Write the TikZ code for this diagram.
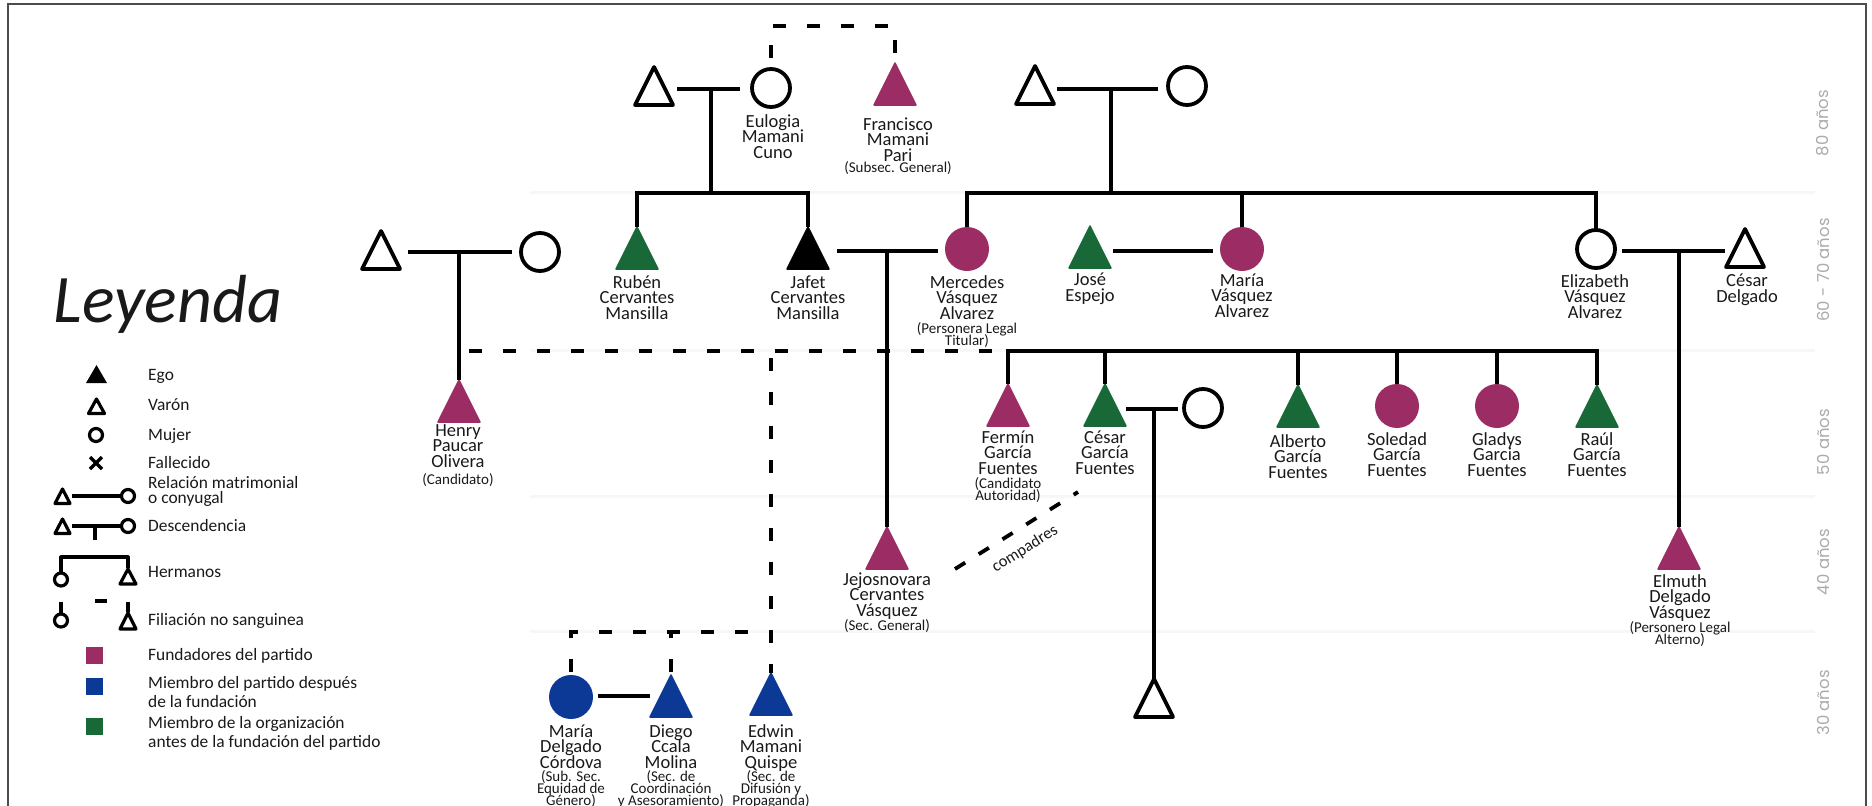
\documentclass[tikz,border=0pt]{standalone}
\usepackage{fontspec}
\setmainfont{Carlito}
\newfontfamily\agefont{Poppins}
\usetikzlibrary{shapes.geometric,calc}
\definecolor{fund}{RGB}{155,45,100}
\definecolor{desp}{RGB}{12,56,150}
\definecolor{antes}{RGB}{24,104,56}
\newcommand\lblfont{\fontsize{18.5}{15.3}\selectfont\lineskiplimit=-100pt\relax}
\newcommand\rolefont{\fontsize{15}{12}\selectfont\lineskiplimit=-100pt\relax}
\newcommand\legfont{\fontsize{17.4}{15}\selectfont\lineskiplimit=-100pt\relax}
\newcommand\legfontb{\fontsize{17.4}{19}\selectfont\lineskiplimit=-100pt\relax}
\lineskiplimit=-100pt
\begin{document}
\begin{tikzpicture}[x=1pt,y=-1pt,
 ln/.style={line width=3.8pt},
 dsh/.style={line width=3.8pt, dash pattern=on 13pt off 21pt},
 tribase/.style={isosceles triangle, isosceles triangle stretches, shape border rotate=90, inner sep=0pt, outer sep=0pt, line join=round, anchor=apex},
 otri/.style={tribase, draw, line width=3.8pt, fill=white, minimum width=38pt, minimum height=38pt},
 ftri/.style={tribase, fill=#1, draw=#1, line width=1.5pt, minimum width=42pt, minimum height=42pt},
 ocirc/.style={circle, draw, line width=3.8pt, fill=white, minimum size=38pt, inner sep=0pt, outer sep=0pt},
 fcirc/.style={circle, fill=#1, minimum size=44pt, inner sep=0pt, outer sep=0pt},
 plabel/.style={align=center, font=\lblfont, text=black!90, inner sep=0pt, anchor=base},
 rolelbl/.style={align=center, font=\rolefont, text=black!90, inner sep=0pt, anchor=base},
 legtxt/.style={align=left, font=\legfont, text=black!90, inner sep=0pt, anchor=base west},
 lg/.style={line width=3.2pt, line join=round},
 age/.style={font=\agefont\fontsize{16.5}{16}\selectfont, text=black!33, rotate=90, inner sep=0pt},
 faint/.style={black!3, line width=3pt}
]
\useasboundingbox (0,0) rectangle (1872,806);
\draw[black!70, line width=1.5pt] (8,812) -- (8,4) -- (1866,4) -- (1866,812);

% faint generation separators
\foreach \yy in {192,350,496,631} \draw[faint] (530,\yy) -- (1815,\yy);

% age labels
\node[age] (a80) at (1823,123) {80 años};
\node[age] (a60) at (1823,270) {60 - 70 años};
\node[age] (a50) at (1823,442) {50 años};
\node[age] (a40) at (1823,562) {40 años};
\node[age] (a30) at (1823,703) {30 años};

% ---------- generation 1 ----------
\node[otri] (t1) at (654,67) {};
\node[ocirc] (eul) at (771,88) {};
\node[ftri=fund] (fra) at (895,63) {};
\node[otri] (t2) at (1035,66) {};
\node[ocirc] (c2) at (1187,86) {};

% ---------- generation 2 ----------
\node[otri] (t3) at (381,231) {};
\node[ocirc] (c3) at (540,252) {};
\node[ftri=antes] (rub) at (637,227) {};
\node[ftri=black] (jaf) at (808,227) {};
\node[fcirc=fund] (merc) at (967,249) {};
\node[ftri=antes] (jos) at (1090,226) {};
\node[fcirc=fund] (mar) at (1242,249) {};
\node[ocirc] (eliz) at (1596,249) {};
\node[otri] (cd) at (1745,229) {};

% ---------- generation 3 ----------
\node[ftri=fund] (hen) at (459,380) {};
\node[ftri=fund] (fer) at (1008,384) {};
\node[ftri=antes] (ces) at (1105,384) {};
\node[ocirc] (cw) at (1203,408) {};
\node[ftri=antes] (alb) at (1298,385) {};
\node[fcirc=fund] (sol) at (1397,406) {};
\node[fcirc=fund] (gla) at (1497,406) {};
\node[ftri=antes] (rau) at (1597,385) {};
\node[ftri=fund] (jej) at (887,527) {};
\node[ftri=fund] (elm) at (1679,527) {};
\node[otri] (cc) at (1154,679) {};

% ---------- generation 4 ----------
\node[fcirc=desp] (md) at (571,697) {};
\node[ftri=desp] (die) at (671,675) {};
\node[ftri=desp] (edw) at (771,673) {};

% ---------- connectors ----------
\coordinate (dA) at (711,89);
\draw[ln] ($(t1.apex)+(23,22)$) -- ($(eul.center)+(-31,1)$);
\draw[ln] (dA) -- ++(0,104);
\draw[ln] (rub.apex) -- ++(0,-34) -| (jaf.apex);
\draw[dsh, dash phase=23pt] (eul.north) -- ++(0,-43) -| (fra.apex);

\coordinate (dB) at (1111,89);
\draw[ln] ($(t2.apex)+(22,23)$) -- ($(c2.center)+(-29,3)$);
\draw[ln] (dB) -- ++(0,104);
\draw[ln] (merc.north) -- ++(0,-34) -| (eliz.north);
\draw[ln] (mar.north) -- ++(0,-34);

\coordinate (dH) at (459,252);
\draw[ln] ($(t3.apex)+(27,21)$) -- ($(c3.center)+(-28,0)$);
\draw[ln] (dH) -- (hen.apex);

\coordinate (dJ) at (887,251);
\draw[ln] ($(jaf.apex)+(29,24)$) -- ($(merc.center)+(-29,2)$);
\draw[ln] (dJ) -- (jej.apex);
\draw[ln] ($(jos.apex)+(23,25)$) -- ($(mar.center)+(-29,2)$);

\coordinate (dE) at (1679,251);
\draw[ln] ($(eliz.center)+(26,2)$) -- ($(cd.apex)+(-20,22)$);
\draw[ln] (dE) -- (elm.apex);

\coordinate (gs) at (1008,351);
\draw[ln] (fer.apex) -- (gs) -| (rau.apex);
\draw[ln] (ces.apex) -- ++(0,-33);
\draw[ln] (alb.apex) -- ++(0,-34);
\draw[ln] (sol.north) -- ++(0,-33);
\draw[ln] (gla.north) -- ++(0,-33);

\coordinate (hj) at (459,351);
\draw[dsh, dash phase=24pt] (hj) -- ($(gs)+(-6,0)$);

\coordinate (dC) at (1154,409);
\draw[ln] ($(ces.apex)+(21,25)$) -- ($(cw.center)+(-25,1)$);
\draw[ln] (dC) -- (cc.apex);

\coordinate (vj) at (771,351);
\coordinate (bj) at (771,632);
\draw[dsh, dash phase=27pt] (vj) -- (edw.apex);
\draw[dsh, dash phase=31pt] (md.north) |- (bj);
\draw[dsh, dash phase=31pt] (die.apex) -- (die.apex |- bj);
\draw[ln] ($(md.center)+(27,-1)$) -- ($(die.apex)+(-21,21)$);

\draw[dsh, dash pattern=on 12pt off 16pt] ($(jej.apex)+(68,42)$) -- ($(ces.apex)+(-27,108)$);
\node[rotate=32, font=\fontsize{16.5}{16}\selectfont, text=black!90, inner sep=0pt] (cmp) at (1025,549) {compadres};

% ---------- labels (anchored at the baseline of their last line) ----------
\node[plabel] (eul-l) at (773,158) {Eulogia\\Mamani\\Cuno};
\node[plabel] (fra-l) at (898,161) {Francisco\\Mamani\\Pari};
\node[rolelbl] (fra-r) at (898,172) {(Subsec. General)};
\node[plabel] (rub-l) at (637,319) {Rubén\\Cervantes\\Mansilla};
\node[plabel] (jaf-l) at (808,319) {Jafet\\Cervantes\\Mansilla};
\node[plabel] (merc-l) at (967,319) {Mercedes\\Vásquez\\Alvarez};
\node[rolelbl] (merc-r) at (967,345) {(Personera Legal\\Titular)};
\node[plabel] (jos-l) at (1090,301) {José\\Espejo};
\node[plabel] (mar-l) at (1242,317) {María\\Vásquez\\Alvarez};
\node[plabel] (eliz-l) at (1595,318) {Elizabeth\\Vásquez\\Alvarez};
\node[plabel] (cd-l) at (1747,302) {César\\Delgado};
\node[plabel] (hen-l) at (458,467) {Henry\\Paucar\\Olivera};
\node[rolelbl] (hen-r) at (458,484) {(Candidato)};
\node[plabel] (fer-l) at (1008,474) {Fermín\\García\\Fuentes};
\node[rolelbl] (fer-r) at (1008,500) {(Candidato\\Autoridad)};
\node[plabel] (ces-l) at (1105,474) {César\\García\\Fuentes};
\node[plabel] (alb-l) at (1298,478) {Alberto\\García\\Fuentes};
\node[plabel] (sol-l) at (1397,476) {Soledad\\García\\Fuentes};
\node[plabel] (gla-l) at (1497,476) {Gladys\\Garcia\\Fuentes};
\node[plabel] (rau-l) at (1597,476) {Raúl\\García\\Fuentes};
\node[plabel] (jej-l) at (887,616) {Jejosnovara\\Cervantes\\Vásquez};
\node[rolelbl] (jej-r) at (887,630) {(Sec. General)};
\node[plabel] (elm-l) at (1680,618) {Elmuth\\Delgado\\Vásquez};
\node[rolelbl] (elm-r) at (1680,644) {(Personero Legal\\Alterno)};
\node[plabel] (md-l) at (571,768) {María\\Delgado\\Córdova};
\node[rolelbl] (md-r) at (571,805) {(Sub. Sec.\\Equidad de\\Género)};
\node[plabel] (die-l) at (671,768) {Diego\\Ccala\\Molina};
\node[rolelbl] (die-r) at (671,805) {(Sec. de\\Coordinación\\y Asesoramiento)};
\node[plabel] (edw-l) at (771,768) {Edwin\\Mamani\\Quispe};
\node[rolelbl] (edw-r) at (771,805) {(Sec. de\\Difusión y\\Propaganda)};

% ---------- legend ----------
\node[font=\fontsize{68}{68}\selectfont\itshape, anchor=base, inner sep=0pt, text=black!90] (ley) at (168,322) {Leyenda};

\fill[lg] (86,383) -- (107,383) -- (96.5,365) -- cycle;
\draw[lg] (88.5,413.5) -- (104.5,413.5) -- (96.5,399) -- cycle;
\draw[lg] (96,435) circle[radius=6.5pt];
\draw[lg] (90,457) -- (102,469) (90,469) -- (102,457);
\draw[lg] (55,503.5) -- (70,503.5) -- (62.5,489) -- cycle;
\draw[lg] (72,496) -- (121,496);
\draw[lg] (128,496) circle[radius=6.5pt];
\draw[lg] (55,533.5) -- (70,533.5) -- (62.5,519) -- cycle;
\draw[lg] (72,526) -- (121,526);
\draw[lg] (128,526) circle[radius=6.5pt];
\draw[lg] (95,526) -- (95,540);
\draw[lg] (61,572) -- (61,557) -- (128,557) -- (128,568);
\draw[lg] (61,579.5) circle[radius=6.5pt];
\draw[lg] (120,584) -- (136,584) -- (128,569) -- cycle;
\draw[lg] (61,602) -- (61,613);
\draw[lg] (61,620.5) circle[radius=6.5pt];
\draw[lg] (95,601) -- (107,601);
\draw[lg] (128,602) -- (128,612);
\draw[lg] (120,629) -- (136,629) -- (128,613) -- cycle;
\fill[fund] (86,647) rectangle (103,664);
\fill[desp] (86,678) rectangle (103,695);
\fill[antes] (86,718) rectangle (103,735);

\node[legtxt] (l-ego) at (148,380.6) {Ego};
\node[legtxt] (l-var) at (148,410.6) {Varón};
\node[legtxt] (l-muj) at (148,440.6) {Mujer};
\node[legtxt] (l-fal) at (148,468.6) {Fallecido};
\node[legtxt] (l-rel) at (148,503.6) {Relación matrimonial\\o conyugal};
\node[legtxt] (l-des) at (148,531.6) {Descendencia};
\node[legtxt] (l-her) at (148,577.6) {Hermanos};
\node[legtxt] (l-fil) at (148,625.6) {Filiación no sanguinea};
\node[legtxt] (l-fun) at (148,660.6) {Fundadores del partido};
\node[legtxt, font=\legfontb] (l-mie) at (148,707.6) {Miembro del partido después\\de la fundación};
\node[legtxt, font=\legfontb] (l-org) at (148,747.6) {Miembro de la organización\\antes de la fundación del partido};
\end{tikzpicture}
\end{document}
